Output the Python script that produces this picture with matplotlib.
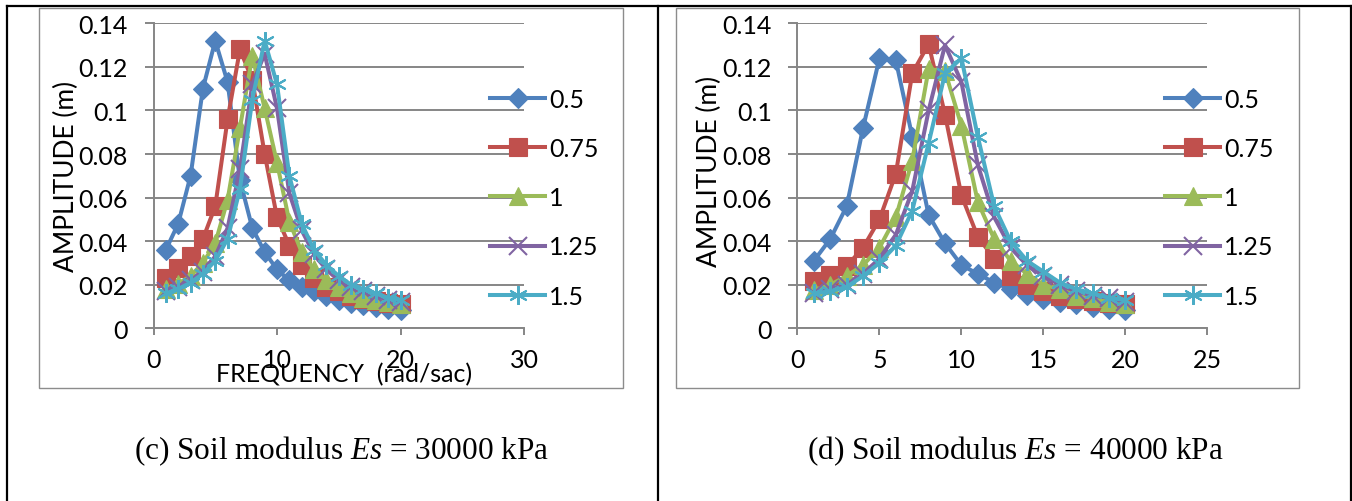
import matplotlib
matplotlib.use('Agg')
import matplotlib.pyplot as plt
from matplotlib.lines import Line2D
from matplotlib.patches import Rectangle
from matplotlib.ticker import FuncFormatter, MultipleLocator

plt.rcParams['font.family'] = ['Lato', 'DejaVu Sans']
plt.rcParams['mathtext.fontset'] = 'custom'
plt.rcParams['mathtext.it'] = 'Liberation Serif:italic'
plt.rcParams['mathtext.rm'] = 'Liberation Serif'

freq = list(range(1, 21))
labels = ['0.5', '0.75', '1', '1.25', '1.5']

# (c) Es = 30000 kPa
c_05 = [0.036, 0.048, 0.070, 0.110, 0.132, 0.113, 0.068, 0.046, 0.035, 0.027,
        0.022, 0.019, 0.017, 0.015, 0.013, 0.0118, 0.0107, 0.0097, 0.009, 0.0085]
c_075 = [0.023, 0.0275, 0.033, 0.041, 0.056, 0.096, 0.128, 0.114, 0.080, 0.051,
         0.038, 0.029, 0.023, 0.019, 0.017, 0.015, 0.0135, 0.0125, 0.0115, 0.011]
c_1 = [0.018, 0.0205, 0.024, 0.030, 0.039, 0.059, 0.092, 0.125, 0.101, 0.076,
       0.049, 0.035, 0.027, 0.022, 0.019, 0.016, 0.014, 0.013, 0.012, 0.011]
c_125 = [0.017, 0.019, 0.022, 0.026, 0.033, 0.046, 0.073, 0.112, 0.126, 0.101,
         0.062, 0.045, 0.034, 0.027, 0.022, 0.019, 0.017, 0.015, 0.013, 0.012]
c_15 = [0.016, 0.018, 0.021, 0.025, 0.031, 0.041, 0.064, 0.105, 0.132, 0.112,
        0.070, 0.048, 0.036, 0.029, 0.024, 0.020, 0.018, 0.016, 0.014, 0.013]

# (d) Es = 40000 kPa
d_05 = [0.031, 0.041, 0.056, 0.092, 0.124, 0.123, 0.088, 0.052, 0.039, 0.029,
        0.025, 0.021, 0.018, 0.0155, 0.0135, 0.012, 0.011, 0.010, 0.009, 0.0085]
d_075 = [0.0215, 0.0245, 0.0285, 0.037, 0.050, 0.071, 0.117, 0.1305, 0.098, 0.061,
         0.042, 0.032, 0.024, 0.020, 0.017, 0.015, 0.0135, 0.0125, 0.0115, 0.011]
d_1 = [0.0175, 0.020, 0.024, 0.029, 0.037, 0.051, 0.077, 0.119, 0.118, 0.093,
       0.058, 0.041, 0.031, 0.025, 0.020, 0.018, 0.015, 0.014, 0.012, 0.011]
d_125 = [0.016, 0.018, 0.020, 0.025, 0.032, 0.043, 0.063, 0.100, 0.130, 0.113,
         0.075, 0.051, 0.037, 0.029, 0.024, 0.020, 0.017, 0.015, 0.014, 0.012]
d_15 = [0.016, 0.017, 0.019, 0.024, 0.030, 0.038, 0.054, 0.085, 0.117, 0.124,
        0.088, 0.056, 0.040, 0.031, 0.026, 0.021, 0.018, 0.016, 0.014, 0.013]

colors = ['#4F81BD', '#C0504D', '#9BBB59', '#8064A2', '#4BACC6']
markers = ['D', 's', '^', 'x', (6, 2, 0)]
msizes = [10.5, 12.5, 12.5, 12.5, 13.5]
grey = '#868686'

W, H = 1352, 502
fig = plt.figure(figsize=(W / 100, H / 100), dpi=100)

def fx(px):
    return px / W

def fy(py):
    return 1 - py / H

def draw_panel(rect, data, xmax, xstep, leg_x, caption, cap_x, xlabel=None):
    ax = fig.add_axes(rect)
    for vals, lab, col, mk, ms in zip(data, labels, colors, markers, msizes):
        if mk in ('x', (6, 2, 0)):
            ax.plot(freq, vals, color=col, lw=2.9, marker=mk, ms=ms, mew=1.5,
                    mec=col, label=lab, clip_on=False)
        else:
            ax.plot(freq, vals, color=col, lw=2.9, marker=mk, ms=ms, mew=0.8,
                    mec=col, mfc=col, label=lab, clip_on=False)
    ax.set_xlim(0, xmax)
    ax.set_ylim(0, 0.14)
    ax.xaxis.set_major_locator(MultipleLocator(xstep))
    ax.yaxis.set_major_locator(MultipleLocator(0.02))
    ax.yaxis.set_major_formatter(FuncFormatter(lambda v, p: f'{v:g}'))
    ax.grid(axis='y', color=grey, lw=1.4)
    ax.set_axisbelow(True)
    for s in ['top', 'right']:
        ax.spines[s].set_visible(False)
    for s in ['left', 'bottom']:
        ax.spines[s].set_color(grey)
        ax.spines[s].set_linewidth(1.4)
    ax.tick_params(axis='y', direction='out', length=6.5, width=1.4, color=grey,
                   labelsize=18, pad=12)
    ax.tick_params(axis='x', direction='out', length=5, width=1.4, color=grey,
                   labelsize=18, pad=9)
    ax.set_ylabel('AMPLITUDE (m)', fontsize=19)
    ax.yaxis.set_label_coords(-0.2, 0.5)
    if xlabel:
        ax.set_xlabel(xlabel, fontsize=18)
        ax.xaxis.set_label_coords(0.514, -0.112)
    ax.legend(loc='center left', bbox_to_anchor=(fx(leg_x), fy(198.7)),
              bbox_transform=fig.transFigure, frameon=False, fontsize=18,
              handlelength=2.2, handletextpad=0.16, labelspacing=1.05,
              borderpad=0, borderaxespad=0)
    fig.text(fx(cap_x), fy(459), caption, ha='right', va='baseline',
             fontsize=22.5, family='Liberation Serif')
    return ax

axc = draw_panel([fx(153.5), fy(329.3), fx(370.5), 305 / H],
                 [c_05, c_075, c_1, c_125, c_15], 30, 10, 490,
                 r'(c) Soil modulus $\mathit{Es}$ = 30000 kPa', 549,
                 xlabel='FREQUENCY  (rad/sac)')
axd = draw_panel([fx(797.5), fy(329.3), fx(409.8), 305 / H],
                 [d_05, d_075, d_1, d_125, d_15], 25, 5, 1165,
                 r'(d) Soil modulus $\mathit{Es}$ = 40000 kPa', 1224)
axd.yaxis.set_label_coords(-0.184, 0.516)

# chart frames
for x0, x1 in [(39, 622.7), (676, 1298.5)]:
    fig.add_artist(Rectangle((fx(x0), fy(389.3)), fx(x1 - x0), (389.3 - 9) / H,
                             transform=fig.transFigure, fill=False,
                             ec='#8c8c8c', lw=1))

# table borders
bk = dict(color='black', lw=1.6, transform=fig.transFigure)
fig.add_artist(Line2D([fx(7), fx(1350.5)], [fy(7), fy(7)], **bk))
for x in [7, 658, 1350.5]:
    fig.add_artist(Line2D([fx(x), fx(x)], [fy(7), 0], **bk))

fig.savefig('out.png', dpi=100)
